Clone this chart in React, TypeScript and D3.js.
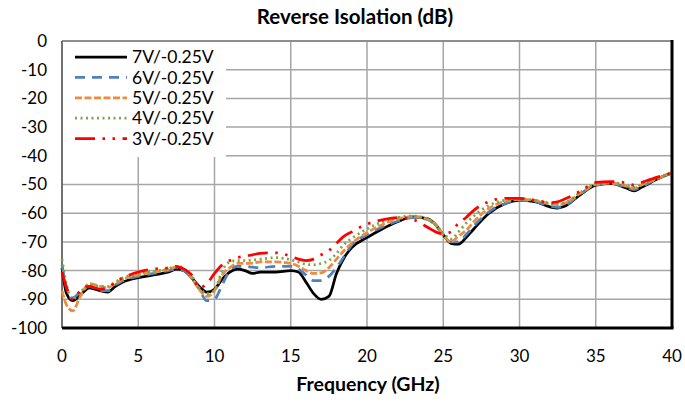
import React from "react";
import * as d3 from "d3";

const freqs = [0, 0.3, 0.7, 1.2, 1.8, 2.5, 3, 3.5, 4, 5, 6, 7, 7.5, 8, 8.5, 9, 9.5, 10, 10.5, 11, 11.5, 12, 12.5, 13, 14, 15, 15.5, 16, 16.5, 17, 17.5, 18, 18.5, 19, 20, 21, 22, 23, 24, 24.5, 25, 25.5, 26, 26.5, 27, 28, 29, 30, 31, 32, 32.5, 33, 34, 35, 36, 37, 37.5, 38, 39, 40];

const v7 = [-79, -88, -90.5, -88.5, -86, -87, -87.5, -85.5, -84, -82.5, -81.5, -80.5, -79.5, -80, -82.5, -85.5, -87.5, -86.5, -83, -80.5, -79.5, -80, -81, -80.5, -80.5, -80, -80.5, -84, -88, -90, -89, -81, -75.5, -72, -68.5, -65.5, -63, -61.3, -62, -64, -67.5, -70.5, -70.8, -68.5, -65.5, -60, -56.8, -55.5, -56, -57.8, -58.2, -57.5, -53.5, -50.2, -49.6, -51.2, -52.2, -51, -48.2, -46];
const v6 = [-78, -86, -89.5, -87.5, -85.5, -87, -87, -85, -83.5, -82, -81, -80, -79.5, -80, -82.5, -86.5, -90.5, -90, -85, -80, -78.5, -78.5, -78.8, -79, -78.5, -78.5, -79.5, -81.5, -83.5, -83.5, -82, -79, -75, -71, -67.5, -64.8, -62.8, -61.5, -62.3, -64.3, -67.5, -70, -70, -67.5, -64.5, -59.5, -56.8, -55.5, -56, -57.5, -58, -57.3, -53.3, -50.2, -49.6, -51, -51.8, -50.8, -48, -46];
const v5 = [-87, -92, -94, -89, -84.5, -85.5, -86, -84.5, -83, -81.5, -80.5, -79.5, -78.8, -79.5, -82.5, -86.5, -89, -87, -81.5, -79, -77.5, -77.5, -77.4, -77, -77, -77.5, -78.5, -80, -81, -80.8, -79, -76, -73, -70.5, -66.8, -64, -62, -61.2, -62.2, -64, -67.5, -70, -68, -66, -63, -58.3, -56, -55.2, -55.5, -56.8, -57, -56.5, -53, -50, -49.5, -50.6, -51.3, -50.2, -48, -46];
const v4 = [-76, -85, -90, -87.5, -85, -85.5, -85.5, -84, -82.5, -81, -80.3, -79.3, -78.5, -79.3, -82, -86, -88, -87, -80, -77, -76.5, -76.5, -76.3, -76, -75.5, -76.2, -77, -77.8, -78, -77.5, -76.5, -74, -70.8, -68.8, -65.5, -63, -61.5, -61, -62, -64, -67, -69, -66.5, -63.5, -61, -57.3, -55.5, -55, -55.5, -56.5, -56.8, -56.3, -52.8, -49.8, -49.3, -50.3, -51, -50, -47.8, -45.8];
const v3 = [-80.5, -86, -90, -87, -85.5, -86.5, -86, -84, -82.5, -80.5, -79.5, -79, -78.5, -79.5, -81.5, -86, -84.5, -81, -78, -76.5, -75.5, -75, -74.5, -74, -73.8, -75, -76, -76.5, -76, -74.5, -73, -70.5, -68, -66.5, -63.8, -62.3, -61.5, -62.2, -65, -66.5, -67.2, -66.5, -63.5, -61.5, -59, -56, -54.8, -54.8, -55.5, -56.3, -56, -55, -52.3, -49.3, -49, -49.4, -50.2, -49.3, -47.5, -46];

const seriesNames = ["7V/-0.25V", "6V/-0.25V", "5V/-0.25V", "4V/-0.25V", "3V/-0.25V"];
const seriesValues = [v7, v6, v5, v4, v3];
const seriesColors = ["#000000", "#4f81bd", "#f08a3c", "#77a845", "#ff0000"];
const seriesDash = ["none", "10 7", "7 2.5", "2 3.5", "20 7.5 2.5 7.5 2.5 7.5"];

const xTicks = [0, 5, 10, 15, 20, 25, 30, 35, 40];
const yTicks = [0, -10, -20, -30, -40, -50, -60, -70, -80, -90, -100];

const FONT = "Lato, 'Open Sans', sans-serif";

export default function App() {
  const left = 62, right = 672, top = 41, bottom = 328;
  const x = d3.scaleLinear().domain([0, 40]).range([left, right]);
  const y = d3.scaleLinear().domain([-100, 0]).range([bottom, top]);
  const line = d3
    .line<[number, number]>()
    .x((d) => x(d[0]))
    .y((d) => y(d[1]))
    .curve(d3.curveMonotoneX);

  return (
    <svg
      width={685}
      height={402}
      style={{ position: "absolute", left: 0, top: 0, background: "#fff" }}
      fontFamily={FONT}
    >
      <rect x={0} y={0} width={685} height={402} fill="#fff" />
      {/* gridlines */}
      {xTicks.map((t) => (
        <line key={"gx" + t} x1={x(t)} x2={x(t)} y1={top} y2={bottom} stroke="#a6a6a6" strokeWidth={1.5} />
      ))}
      {yTicks.map((t) => (
        <line key={"gy" + t} x1={left} x2={right} y1={y(t)} y2={y(t)} stroke="#a6a6a6" strokeWidth={1.5} />
      ))}
      {/* legend background */}
      <rect x={left + 1} y={top + 1} width={163} height={115} fill="#fff" />
      {/* frame */}
      <line x1={left} x2={right} y1={top} y2={top} stroke="#7f7f7f" strokeWidth={1.5} />
      <line x1={left} x2={left} y1={top} y2={bottom} stroke="#595959" strokeWidth={1.5} />
      {/* series */}
      {seriesValues.map((vals, i) => (
        <path
          key={seriesNames[i]}
          d={line(freqs.map((f, j) => [f, vals[j]] as [number, number])) || ""}
          fill="none"
          stroke={seriesColors[i]}
          strokeWidth={2.75}
          strokeDasharray={seriesDash[i] === "none" ? undefined : seriesDash[i]}
          strokeLinejoin="round"
        />
      ))}
      <line x1={left} x2={right + 1.5} y1={bottom} y2={bottom} stroke="#000" strokeWidth={3} />
      <line x1={right} x2={right} y1={top - 1} y2={bottom} stroke="#000" strokeWidth={3} />
      {/* legend */}
      {seriesNames.map((n, i) => {
        const ly = 57 + i * 20.4;
        return (
          <g key={"lg" + n}>
            <line
              x1={75}
              x2={127}
              y1={ly}
              y2={ly}
              stroke={seriesColors[i]}
              strokeWidth={2.75}
              strokeDasharray={seriesDash[i] === "none" ? undefined : seriesDash[i]}
            />
            <text x={132} y={ly} dy="0.35em" fontSize={17.5} fill="#000">
              {n}
            </text>
          </g>
        );
      })}
      {/* axes labels */}
      {xTicks.map((t) => (
        <text key={"tx" + t} x={x(t)} y={356} dy="0.35em" textAnchor="middle" fontSize={17} fill="#000">
          {t}
        </text>
      ))}
      {yTicks.map((t) => (
        <text key={"ty" + t} x={47} y={y(t)} dy="0.35em" textAnchor="end" fontSize={17} fill="#000">
          {t}
        </text>
      ))}
      <text x={355} y={17} dy="0.35em" textAnchor="middle" fontSize={20.5} fontWeight="bold" fill="#000">
        Reverse Isolation (dB)
      </text>
      <text x={368} y={384} dy="0.35em" textAnchor="middle" fontSize={19.5} fontWeight="bold" fill="#000">
        Frequency (GHz)
      </text>
    </svg>
  );
}
